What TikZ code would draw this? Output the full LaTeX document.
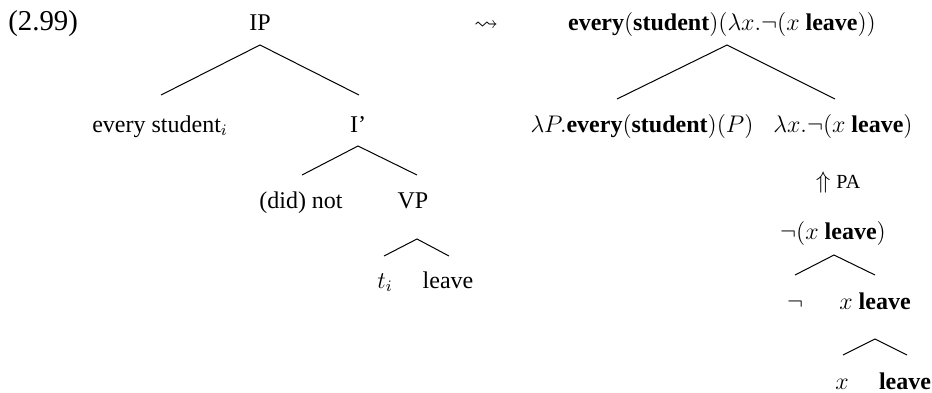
\documentclass[tikz,border=0pt,12pt]{standalone}
\usepackage{amssymb}
\usepackage[no-math]{fontspec}
\setmainfont{Liberation Serif}
\begin{document}
\begin{tikzpicture}[x=0.5pt,y=-0.5pt,
  lab/.style={anchor=base,inner sep=0pt},
  branch/.style={line width=0.5pt}]
\useasboundingbox (0,0) rectangle (932,392);
% left tree
\node[lab,anchor=base west,font=\large] (ex) at (8,30) {(2.99)};
\node[lab] (ip) at (260,30) {IP};
\node[lab] (es) at (160,132) {every student$_i$};
\node[lab] (ib) at (358,132) {I'};
\node[lab] (not) at (301,208) {(did) not};
\node[lab] (vp) at (413,208) {VP};
\node[lab] (ti) at (385,288) {$t_i$};
\node[lab] (lv) at (448,288) {leave};
\coordinate (ipA) at (260,45); \coordinate (ipL) at (161,95); \coordinate (ipR) at (359,95);
\coordinate (ibA) at (358,146); \coordinate (ibL) at (302,175); \coordinate (ibR) at (417,175);
\coordinate (vpA) at (417,239); \coordinate (vpL) at (384,256); \coordinate (vpR) at (449,256);
\draw[branch] (ipL) -- (ipA) -- (ipR);
\draw[branch] (ibL) -- (ibA) -- (ibR);
\draw[branch] (vpL) -- (vpA) -- (vpR);
% arrow
\node[lab] (sq) at (486,30) {$\leadsto$};
% right tree
\node[lab] (top) at (722,30) {\textbf{every}$($\textbf{student}$)(\lambda x.\neg(x$ \textbf{leave}$))$};
\node[lab] (lp) at (642,132) {$\lambda P.$\textbf{every}$($\textbf{student}$)(P)$};
\node[lab] (lx) at (843,132) {$\lambda x.\neg(x$ \textbf{leave}$)$};
\node[lab] (pa) at (838,188) {$\Uparrow$ {\footnotesize PA}};
\node[lab] (nx) at (833,239) {$\neg(x$ \textbf{leave}$)$};
\node[lab] (ng) at (795,309) {$\neg$};
\node[lab] (xl) at (875,309) {$x$ \textbf{leave}};
\node[lab] (xx) at (842,389) {$x$};
\node[lab] (lv2) at (905,389) {\textbf{leave}};
\coordinate (tA) at (727,45); \coordinate (tL) at (617,99); \coordinate (tR) at (835,99);
\coordinate (nA) at (834,255); \coordinate (nL) at (795,275); \coordinate (nR) at (875,275);
\coordinate (xA) at (875,339); \coordinate (xL) at (843,355); \coordinate (xR) at (907,355);
\draw[branch] (tL) -- (tA) -- (tR);
\draw[branch] (nL) -- (nA) -- (nR);
\draw[branch] (xL) -- (xA) -- (xR);
\end{tikzpicture}
\end{document}
